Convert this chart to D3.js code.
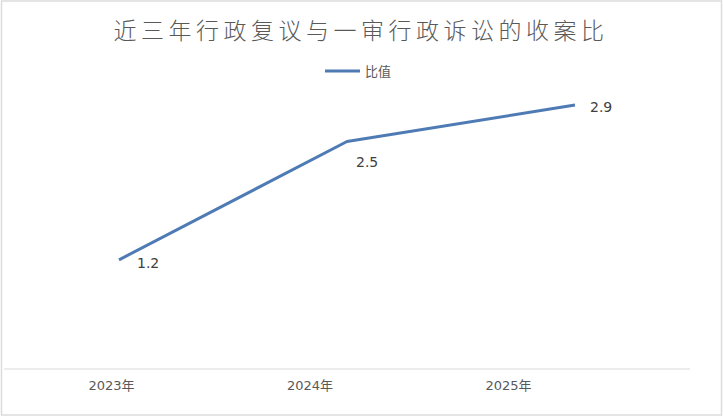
<!DOCTYPE html>
<html><head><meta charset="utf-8">
<script src="https://cdn.jsdelivr.net/npm/d3@7"></script>
<style>body{margin:0;background:#fff;}svg{display:block;}</style>
</head><body>
<script>
const categories = ["2023年", "2024年", "2025年"];
const values = [1.2, 2.5, 2.9];
const seriesName = "比值";
const title = "近三年行政复议与一审行政诉讼的收案比";

const W = 723, H = 418;
const svg = d3.select("body").append("svg").attr("width", W).attr("height", H);
svg.append("rect").attr("x", 1.5).attr("y", 1).attr("width", W - 3).attr("height", H - 4)
  .attr("fill", "#fff").attr("stroke", "#dcdcdc").attr("stroke-width", 1.5);

const x = d3.scalePoint().domain(categories).range([119, 575]);
const xLab = d3.scalePoint().domain(categories).range([111, 508]);
const y = d3.scaleLinear().domain([0, 3.5]).range([369, 50.5]);

// title
svg.append("text").attr("x", 361).attr("y", 39).attr("text-anchor", "middle")
  .attr("font-family", "'Noto Sans CJK SC', sans-serif").attr("font-size", 23)
  .attr("font-weight", 300)
  .attr("letter-spacing", 4.5).attr("fill", "#595959").text(title);

// legend
svg.append("line").attr("x1", 325).attr("x2", 360).attr("y1", 71).attr("y2", 71)
  .attr("stroke", "#4f7bb5").attr("stroke-width", 3);
svg.append("text").attr("x", 365).attr("y", 76).attr("font-family", "'Noto Sans CJK SC', sans-serif")
  .attr("font-size", 13).attr("fill", "#595959").text(seriesName);

// x axis
svg.append("line").attr("x1", 4).attr("x2", 690).attr("y1", y(0)).attr("y2", y(0))
  .attr("stroke", "#d9d9d9").attr("stroke-width", 1.2);
const ax = svg.append("g").attr("transform", `translate(0,${y(0)})`)
  .call(d3.axisBottom(xLab).tickSize(0).tickPadding(12));
ax.select(".domain").remove();
ax.selectAll("text").attr("font-family", "'DejaVu Sans', 'Noto Sans CJK SC', sans-serif")
  .attr("font-size", 13).attr("fill", "#595959");

// line
const line = d3.line().x((d, i) => x(categories[i])).y(d => y(d));
svg.append("path").datum(values).attr("d", line).attr("fill", "none")
  .attr("stroke", "#4f7bb5").attr("stroke-width", 3).attr("stroke-linejoin", "round");

// data labels
const offs = [[18, 8], [9, 25], [15, 7]];
svg.selectAll(".lbl").data(values).enter().append("text")
  .attr("x", (d, i) => x(categories[i]) + offs[i][0])
  .attr("y", (d, i) => y(d) + offs[i][1])
  .attr("font-family", "'DejaVu Sans', sans-serif").attr("font-size", 14)
  .attr("fill", "#404040").text(d => d.toFixed(1));
</script>
</body></html>
